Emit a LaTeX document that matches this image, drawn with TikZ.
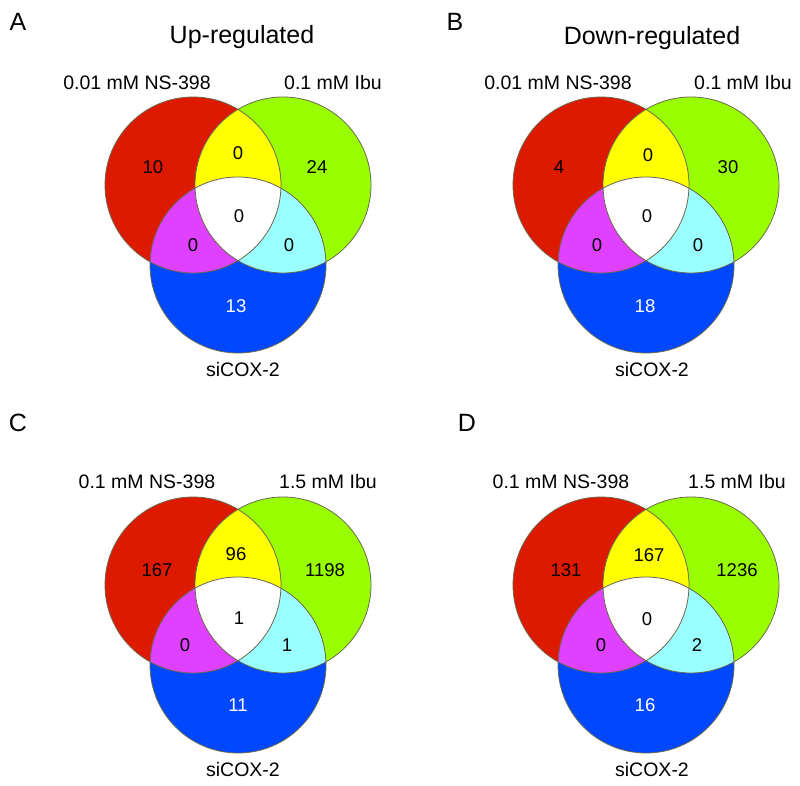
\documentclass[tikz,border=0pt]{standalone}
\usepackage{fontspec}
\setmainfont{Liberation Sans}
\definecolor{vred}{RGB}{221,26,0}
\definecolor{vgreen}{RGB}{153,255,0}
\definecolor{vblue}{RGB}{0,72,255}
\definecolor{vyellow}{RGB}{255,255,0}
\definecolor{vmag}{RGB}{224,64,255}
\definecolor{vcyan}{RGB}{153,255,255}
\newcommand\vennthree{%
  \fill[vred] (193,185) circle (88pt);
  \fill[vgreen] (283,185) circle (88pt);
  \fill[vblue] (238,265) circle (88pt);
  \begin{scope}
    \clip (283,185) circle (88pt);
    \fill[vcyan] (238,265) circle (88pt);
  \end{scope}
  \begin{scope}
    \clip (193,185) circle (88pt);
    \fill[vyellow] (283,185) circle (88pt);
    \fill[vmag] (238,265) circle (88pt);
    \clip (283,185) circle (88pt);
    \fill[white] (238,265) circle (88pt);
  \end{scope}
  \draw[outl] (193,185) circle (88pt);
  \draw[outl] (283,185) circle (88pt);
  \draw[outl] (238,265) circle (88pt);
}
\begin{document}
\begin{tikzpicture}[x=1pt,y=-1pt,
  outl/.style={draw=black!55!olive!60!gray, line width=0.8pt},
  letter/.style={font=\fontsize{25}{28}\selectfont, anchor=base},
  title/.style={font=\fontsize{25}{28}\selectfont, anchor=base},
  lab/.style={font=\fontsize{19.5}{22}\selectfont},
  num/.style={font=\fontsize{18.5}{22}\selectfont},
  wnum/.style={num, text=white}]
\useasboundingbox[fill=white] (0,0) rectangle (800,786);
% Panel A
\vennthree
\node[letter] (la) at (18,31) {A};
\node[title] (ta) at (242,44) {Up-regulated};
\node[lab] (a1) at (137,83) {0.01 mM NS-398};
\node[lab] (a2) at (333,83) {0.1 mM Ibu};
\node[lab] (a3) at (243,370) {siCOX-2};
\node[num] (ar) at (153,167) {10};
\node[num] (ay) at (238,153) {0};
\node[num] (ag) at (317,167) {24};
\node[num] (aw) at (239,216) {0};
\node[num] (am) at (193,245) {0};
\node[num] (ac) at (289,245) {0};
\node[wnum] (ab) at (236,306) {13};
% Panel B
\begin{scope}[shift={(408,0)}]
\vennthree
\end{scope}
\node[letter] (lb) at (455,31) {B};
\node[title] (tb) at (652,45) {Down-regulated};
\node[lab] (b1) at (558,83) {0.01 mM NS-398};
\node[lab] (b2) at (743,83) {0.1 mM Ibu};
\node[lab] (b3) at (652,370) {siCOX-2};
\node[num] (br) at (559,167) {4};
\node[num] (by) at (648,155) {0};
\node[num] (bg) at (728,167) {30};
\node[num] (bw) at (647,216) {0};
\node[num] (bm) at (597,245) {0};
\node[num] (bc) at (698,245) {0};
\node[wnum] (bb) at (645,306) {18};
% Panel C
\begin{scope}[shift={(0,400)}]
\vennthree
\end{scope}
\node[letter] (lc) at (18,431) {C};
\node[lab] (c1) at (147,482) {0.1 mM NS-398};
\node[lab] (c2) at (328,482) {1.5 mM Ibu};
\node[lab] (c3) at (243,770) {siCOX-2};
\node[num] (cr) at (157,570) {167};
\node[num] (cy) at (236,554) {96};
\node[num] (cg) at (325,570) {1198};
\node[num] (cw) at (239,618) {1};
\node[num] (cm) at (185,645) {0};
\node[num] (cc) at (287,645) {1};
\node[wnum] (cb) at (238,705) {11};
% Panel D
\begin{scope}[shift={(408,400)}]
\vennthree
\end{scope}
\node[letter] (ld) at (467,431) {D};
\node[lab] (d1) at (561,482) {0.1 mM NS-398};
\node[lab] (d2) at (737,482) {1.5 mM Ibu};
\node[lab] (d3) at (652,770) {siCOX-2};
\node[num] (dr) at (566,570) {131};
\node[num] (dy) at (649,555) {167};
\node[num] (dg) at (737,570) {1236};
\node[num] (dw) at (647,619) {0};
\node[num] (dm) at (601,645) {0};
\node[num] (dc) at (697,645) {2};
\node[wnum] (db) at (645,705) {16};
\end{tikzpicture}
\end{document}
